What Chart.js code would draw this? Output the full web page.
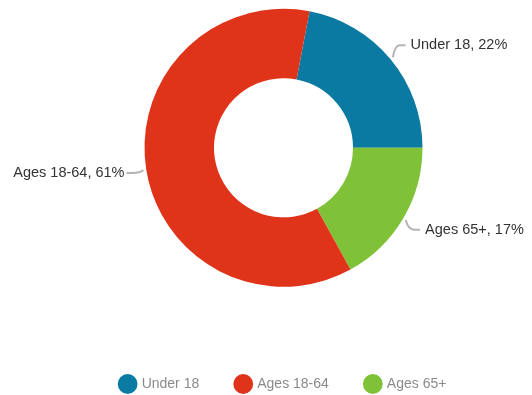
<!DOCTYPE html>
<html>
<head>
<meta charset="utf-8">
<script src="https://cdn.jsdelivr.net/npm/chart.js@4/dist/chart.umd.min.js"></script>
<style>
  html, body { margin: 0; padding: 0; background: #fff; }
  #wrap { width: 532px; height: 395px; }
</style>
</head>
<body>
<div id="wrap"><canvas id="ageChart"></canvas></div>
<script>
// slices in clockwise order from the top
const labels = ["Under 18", "Ages 65+", "Ages 18-64"];
const shares = [22, 17, 61];
const colors = ["#0a7aa3", "#7fc237", "#e0341a"];
// order the legend shows its entries in
const legendOrder = ["Under 18", "Ages 18-64", "Ages 65+"];

const FONT = "'Liberation Sans', Arial, sans-serif";

// outside labels with a short bent leader line
const sliceLabels = {
    id: "sliceLabels",
    afterDatasetsDraw(chart) {
        const ctx = chart.ctx;
        const meta = chart.getDatasetMeta(0);
        ctx.save();
        ctx.font = "14.5px " + FONT;
        ctx.textBaseline = "middle";
        meta.data.forEach((arc, i) => {
            const p = arc.getProps(["x", "y", "startAngle", "endAngle", "outerRadius"], true);
            const mid = (p.startAngle + p.endAngle) / 2;
            const cos = Math.cos(mid), sin = Math.sin(mid);
            const right = cos >= 0;
            const dir = right ? 1 : -1;
            const r0 = p.outerRadius + 3;
            const r1 = p.outerRadius + 22;
            const x0 = p.x + cos * r0, y0 = p.y + sin * r0;
            const ax = p.x + cos * r1, ay = p.y + sin * r1;
            const ex = ax - dir * 8;
            ctx.strokeStyle = "#b5b5b5";
            ctx.lineWidth = 2;
            ctx.beginPath();
            ctx.moveTo(x0, y0);
            ctx.quadraticCurveTo(x0 + (ex - x0) * 0.3, ay, ex, ay);
            ctx.lineTo(ax - dir * 2, ay);
            ctx.stroke();
            ctx.fillStyle = "#333";
            ctx.textAlign = right ? "left" : "right";
            ctx.fillText(labels[i] + ", " + shares[i] + "%", ax + (right ? 3 : 0), ay);
        });
        ctx.restore();
    }
};

new Chart(document.getElementById("ageChart"), {
    type: "doughnut",
    data: {
        labels,
        datasets: [{
            data: shares,
            backgroundColor: colors,
            borderWidth: 0
        }]
    },
    options: {
        responsive: true,
        maintainAspectRatio: false,
        animation: false,
        rotation: 10.8,
        radius: 139,
        cutout: "50%",
        layout: { padding: { left: 35, right: 0, top: 0, bottom: -6 } },
        plugins: {
            tooltip: { enabled: false },
            legend: {
                position: "bottom",
                title: { display: true, text: "", padding: { top: 30, bottom: 0 } },
                labels: {
                    usePointStyle: true,
                    pointStyle: "circle",
                    boxWidth: 16,
                    boxHeight: 16,
                    padding: 37,
                    color: "#8a8a8a",
                    font: { family: FONT, size: 14 },
                    sort: (a, b) => legendOrder.indexOf(a.text) - legendOrder.indexOf(b.text)
                }
            }
        }
    },
    plugins: [sliceLabels]
});
</script>
</body>
</html>
